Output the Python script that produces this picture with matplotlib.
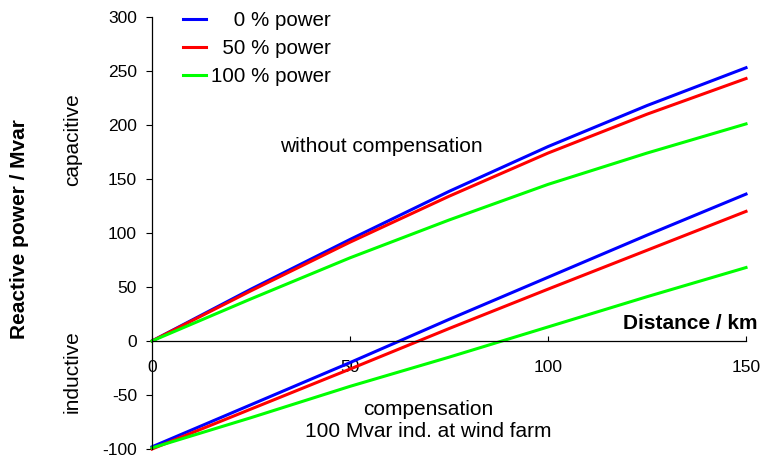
import matplotlib
matplotlib.use("Agg")
import matplotlib.pyplot as plt

plt.rcParams["font.family"] = ["Liberation Sans", "DejaVu Sans"]
plt.rcParams["axes.unicode_minus"] = False

DISTANCE = [0, 25, 50, 75, 100, 125, 150]

# without compensation
UNCOMP_0 = [0, 48, 94, 138.5, 180, 218, 253]
UNCOMP_50 = [0, 46.5, 91.5, 134, 174, 210, 243]
UNCOMP_100 = [0, 39, 77, 112, 145, 174, 201]

# 100 Mvar inductive compensation at wind farm
COMP_0 = [-98, -59, -20, 20, 59, 98, 136]
COMP_50 = [-100, -63, -26, 11.5, 48, 84, 120]
COMP_100 = [-99, -71, -42, -15, 13, 41, 68]

LABELS = ["\u2007\u20070 % power", "\u200750 % power", "100 % power"]
COLORS = ["#0000ff", "#ff0000", "#00ff00"]


def _main() -> None:
    fig = plt.figure(figsize=(7.6, 4.59), dpi=100)
    ax = fig.add_axes([0.2, 0.0218, 0.7816, 0.9412])

    handles = []
    for upper, lower, color, label in zip(
        [UNCOMP_0, UNCOMP_50, UNCOMP_100],
        [COMP_0, COMP_50, COMP_100],
        COLORS,
        LABELS,
    ):
        (line,) = ax.plot(DISTANCE, upper, color=color, lw=2.2, label=label,
                          clip_on=False, solid_joinstyle="round")
        ax.plot(DISTANCE, lower, color=color, lw=2.2, clip_on=False, solid_joinstyle="round")
        handles.append(line)

    ax.set_xlim(0, 150)
    ax.set_ylim(-100, 300)
    ax.set_xticks([0, 50, 100, 150])
    ax.set_yticks(range(-100, 301, 50))

    ax.spines["top"].set_visible(False)
    ax.spines["right"].set_visible(False)
    ax.spines["bottom"].set_position(("data", 0))
    ax.spines["left"].set_linewidth(0.9)
    ax.spines["bottom"].set_linewidth(0.9)

    ax.tick_params(axis="y", direction="out", length=4.3, width=0.8, labelsize=12.5, pad=6.5)
    ax.tick_params(axis="x", direction="in", length=3.5, width=0.8, labelsize=12.5, pad=13.5)

    ax.legend(
        handles=handles,
        loc="upper left",
        bbox_to_anchor=(0.053, 1.013),
        frameon=False,
        fontsize=14.8,
        handlelength=1.1,
        handletextpad=0.25,
        labelspacing=0.44,
        borderpad=0,
        borderaxespad=0,
    )

    ax.text(57.8, 180, "without compensation", ha="center", va="center", fontsize=15)
    ax.text(69.7, -63, "compensation", ha="center", va="center", fontsize=15)
    ax.text(69.7, -84, "100 Mvar ind. at wind farm", ha="center", va="center", fontsize=15)
    ax.text(152.8, 16, "Distance / km", ha="right", va="center", fontsize=15, fontweight="bold")

    fig.text(0.096, 0.695, "capacitive", rotation=90, ha="center", va="center", fontsize=15)
    fig.text(0.095, 0.19, "inductive", rotation=90, ha="center", va="center", fontsize=15)
    fig.text(0.026, 0.501, "Reactive power / Mvar", rotation=90, ha="center", va="center",
             fontsize=15, fontweight="bold")

    fig.savefig("out.png", dpi=100)
    plt.close(fig)


if __name__ == "__main__":
    _main()
